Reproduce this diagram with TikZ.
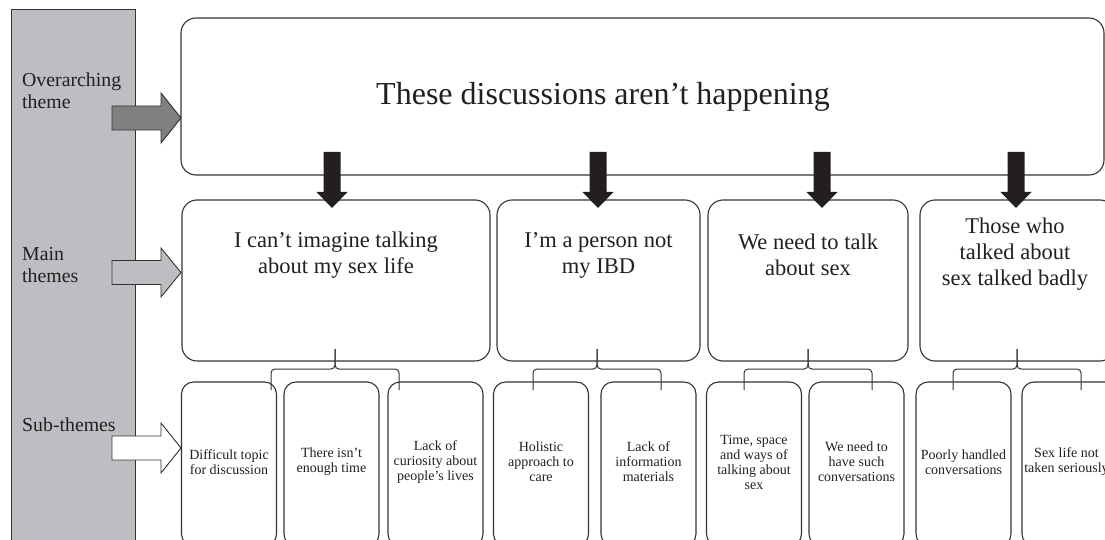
\documentclass[tikz,border=0pt]{standalone}
\usepackage{fontspec}
\setmainfont{Liberation Serif}
\usetikzlibrary{calc}
\definecolor{ink}{HTML}{231F20}
\definecolor{panel}{HTML}{BEBEC2}
\definecolor{darkarrow}{HTML}{808083}
\definecolor{edge}{HTML}{333333}
\begin{document}
\begin{tikzpicture}[x=1pt,y=-1pt,
  box/.style={draw=edge, line width=1.1pt, rounded corners=15pt, inner sep=0pt},
  subbox/.style={draw=edge, line width=1.1pt, rounded corners=12pt, inner sep=0pt,
    minimum width=95pt, minimum height=164pt},
  maintext/.style={text=ink, align=center, font=\fontsize{22.5}{26}\selectfont, inner sep=0pt},
  subtext/.style={text=ink, align=center, font=\fontsize{14}{15}\selectfont, inner sep=0pt},
  sidetext/.style={text=ink, align=left, anchor=west, font=\fontsize{19.8}{22}\selectfont, inner sep=0pt},
  blockarrow/.style={draw=edge, line width=0.9pt, line join=miter},
  downarrow/.style={fill=ink, draw=none},
  bracket/.style={draw=edge, line width=1pt, rounded corners=4pt}]
\clip (0,0) rectangle (1105,540);
\useasboundingbox (0,0) rectangle (1105,540);

% side panel
\fill[panel, draw=edge, line width=1pt] (11,10) rectangle (135,560);
\node[sidetext] (lover) at (22,91) {Overarching\\theme};
\node[sidetext] (lmain) at (22,265) {Main\\themes};
\node[sidetext] (lsub) at (22,425) {Sub-themes};

% top box
\node[box, minimum width=923pt, minimum height=157pt] (top) at (642.5,96.5) {};
\node[text=ink, inner sep=0pt, font=\fontsize{32}{36}\selectfont] (toptext) at (603,97) {These discussions aren’t happening};

% main boxes
\node[box, minimum width=308pt, minimum height=161pt] (m1) at (336,280.5) {};
\node[box, minimum width=203pt, minimum height=161pt] (m2) at (598.5,280.5) {};
\node[box, minimum width=200pt, minimum height=161pt] (m3) at (808,280.5) {};
\node[box, minimum width=195pt, minimum height=161pt] (m4) at (1017.5,280.5) {};
\node[maintext] (t1) at (336,255) {I can’t imagine talking\\about my sex life};
\node[maintext] (t2) at (598.5,255) {I’m a person not\\my IBD};
\node[maintext] (t3) at (808,255) {We need to talk\\about sex};
\node[maintext] (t4) at (1015,254) {Those who\\talked about\\sex talked badly};

% sub boxes
\node[subbox] (s1) at (229,464) {};
\node[subbox] (s2) at (331.5,464) {};
\node[subbox] (s3) at (435.5,464) {};
\node[subbox] (s4) at (541,464) {};
\node[subbox] (s5) at (648.5,464) {};
\node[subbox] (s6) at (754,464) {};
\node[subbox] (s7) at (856.5,464) {};
\node[subbox] (s8) at (963.5,464) {};
\node[subbox] (s9) at (1069.5,464) {};
\node[subtext] (u1) at (229,462) {Difficult topic\\for discussion};
\node[subtext] (u2) at (331.5,462) {There isn’t\\enough time};
\node[subtext] (u3) at (435.5,462) {Lack of\\curiosity about\\people’s lives};
\node[subtext] (u4) at (541,462) {Holistic\\approach to\\care};
\node[subtext] (u5) at (648.5,462) {Lack of\\information\\materials};
\node[subtext] (u6) at (754,462) {Time, space\\and ways of\\talking about\\sex};
\node[subtext] (u7) at (856.5,462) {We need to\\have such\\conversations};
\node[subtext] (u8) at (963.5,462) {Poorly handled\\conversations};
\node[subtext] (u9) at (1066.5,462) {Sex life not\\taken seriously};

% left block arrows
\draw[blockarrow, fill=darkarrow] (112,106) -- (161,106) -- (161,93) -- (181,118) -- (161,143) -- (161,130) -- (112,130) -- cycle;
\draw[blockarrow, fill=panel] (112,260.5) -- (161,260.5) -- (161,248) -- (181,272.5) -- (161,297) -- (161,284.5) -- (112,284.5) -- cycle;
\draw[blockarrow, fill=white] (112,436) -- (161,436) -- (161,423) -- (181,448) -- (161,473) -- (161,460) -- (112,460) -- cycle;

% down arrows
\foreach \cx/\nm in {332/d1,598/d2,822/d3,1016/d4}{
  \fill[downarrow] (\cx-8.5,152) -- (\cx+8.5,152) -- (\cx+8.5,192) -- (\cx+15.5,192)
    -- (\cx,208) -- (\cx-15.5,192) -- (\cx-8.5,192) -- cycle;
}

% brackets
\foreach \sx/\nm in {335/b1,597/b2,808/b3,1017/b4}{
  \coordinate (\nm top) at (\sx,349);
  \coordinate (\nm l) at (\sx-64,390);
  \coordinate (\nm r) at (\sx+64,390);
  \draw[bracket] (\nm top) -- (\sx,369) -- (\sx-64,369) -- (\nm l);
  \draw[bracket] (\nm top) -- (\sx,369) -- (\sx+64,369) -- (\nm r);
}
\end{tikzpicture}
\end{document}
